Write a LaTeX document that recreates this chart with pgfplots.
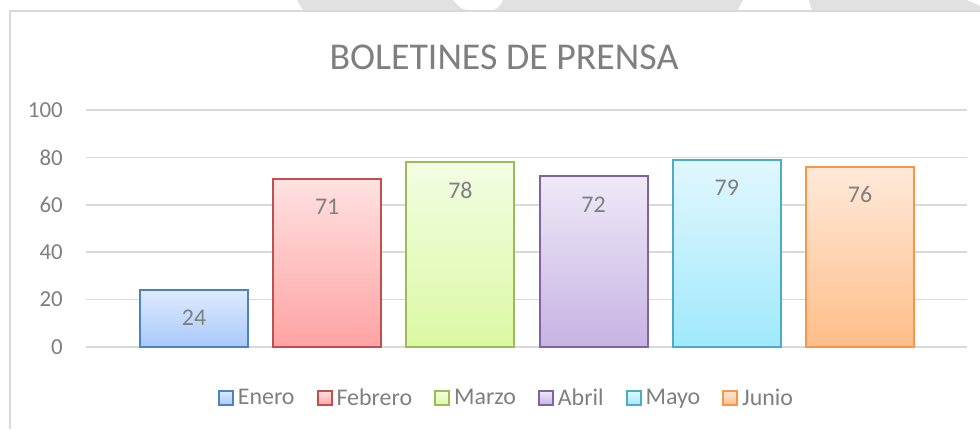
\documentclass[border=0pt]{standalone}
\usepackage{pgfplots}
\pgfplotsset{compat=1.18}
\usepackage{fontspec}
\setmainfont{Carlito}
\definecolor{txt}{HTML}{7F7F7F}
\definecolor{gridc}{HTML}{D9D9D9}
\definecolor{wm}{HTML}{E1E1E1}
\definecolor{frm}{HTML}{D9D9D9}
\definecolor{bE}{HTML}{4F81BD}\definecolor{tE}{HTML}{DEEAFD}\definecolor{uE}{HTML}{A8C9FA}
\definecolor{bF}{HTML}{C0504D}\definecolor{tF}{HTML}{FFE1E1}\definecolor{uF}{HTML}{FFA3A3}
\definecolor{bM}{HTML}{9BBB59}\definecolor{tM}{HTML}{F3FDE4}\definecolor{uM}{HTML}{DAF9A2}
\definecolor{bA}{HTML}{8064A2}\definecolor{tA}{HTML}{EFE9F7}\definecolor{uA}{HTML}{C6B3E3}
\definecolor{bY}{HTML}{4BACC6}\definecolor{tY}{HTML}{E1F7FE}\definecolor{uY}{HTML}{A0E9FC}
\definecolor{bJ}{HTML}{F79646}\definecolor{tJ}{HTML}{FFE9DA}\definecolor{uJ}{HTML}{FEBE88}
\newcommand{\fs}{\fontsize{23}{27}\selectfont}
\newcommand{\fl}{\fontsize{24}{28}\selectfont}
\begin{document}
\begin{tikzpicture}[x=1bp,y=1bp]
\useasboundingbox (0,0) rectangle (980,429);
\fill[white] (0,0) rectangle (980,429);
% background watermark strip
\fill[wm] (297,429) -- (453,429) .. controls (458,423) and (462,419) .. (467,419) -- (303,419) -- cycle;
\fill[wm] (493,419) .. controls (498,420) and (501,424) .. (503,429) -- (743,429) .. controls (741,425) and (739,422) .. (738,419) -- cycle;
\fill[wm] (809,429) .. controls (810,425) and (811,422) .. (812,419) -- (980,419) -- (980,423) -- (967,429) -- cycle;
\draw[frm, line width=1.5bp] (10,0) -- (10,418) -- (980,418);
\node[font=\fontsize{38}{44}\selectfont, text=txt] at (504,372) {BOLETINES DE PRENSA};
\begin{axis}[
  at={(86bp,82bp)}, anchor=south west, scale only axis,
  width=881bp, height=237bp,
  xmin=-0.8108, xmax=5.8033, ymin=0, ymax=100,
  ytick={0,20,40,60,80,100}, xtick=\empty,
  axis line style={draw=none}, major tick length=0pt,
  ymajorgrids, grid style={draw=gridc, line width=1.5bp},
  yticklabel style={anchor=east, inner sep=0pt, xshift=-23bp, font=\fs, text=txt},
  /pgf/number format/assume math mode=true,
  nodes near coords,
  every node near coord/.append style={anchor=center, yshift=-28bp, font=\fl, text=txt},
  legend style={at={(0.4784,-0.2152)}, anchor=center, draw=none, fill=none,
    font=\fl, text=txt, legend columns=6,
    nodes={inner xsep=4bp},
    /tikz/every even column/.append style={column sep=18bp}},
  legend image code/.code={\draw[#1] (0bp,-7bp) rectangle (14bp,7bp);},
  clip=false]
\addplot[ybar, bar width=108bp, bar shift=0pt, draw=bE, line width=2bp, top color=tE, bottom color=uE] coordinates {(0,24)};
\addlegendentry{Enero}
\addplot[ybar, bar width=108bp, bar shift=0pt, draw=bF, line width=2bp, top color=tF, bottom color=uF] coordinates {(1,71)};
\addlegendentry{Febrero}
\addplot[ybar, bar width=108bp, bar shift=0pt, draw=bM, line width=2bp, top color=tM, bottom color=uM] coordinates {(2,78)};
\addlegendentry{Marzo}
\addplot[ybar, bar width=108bp, bar shift=0pt, draw=bA, line width=2bp, top color=tA, bottom color=uA] coordinates {(3,72)};
\addlegendentry{Abril}
\addplot[ybar, bar width=108bp, bar shift=0pt, draw=bY, line width=2bp, top color=tY, bottom color=uY] coordinates {(4,79)};
\addlegendentry{Mayo}
\addplot[ybar, bar width=108bp, bar shift=0pt, draw=bJ, line width=2bp, top color=tJ, bottom color=uJ] coordinates {(5,76)};
\addlegendentry{Junio}
\end{axis}
\end{tikzpicture}
\end{document}
